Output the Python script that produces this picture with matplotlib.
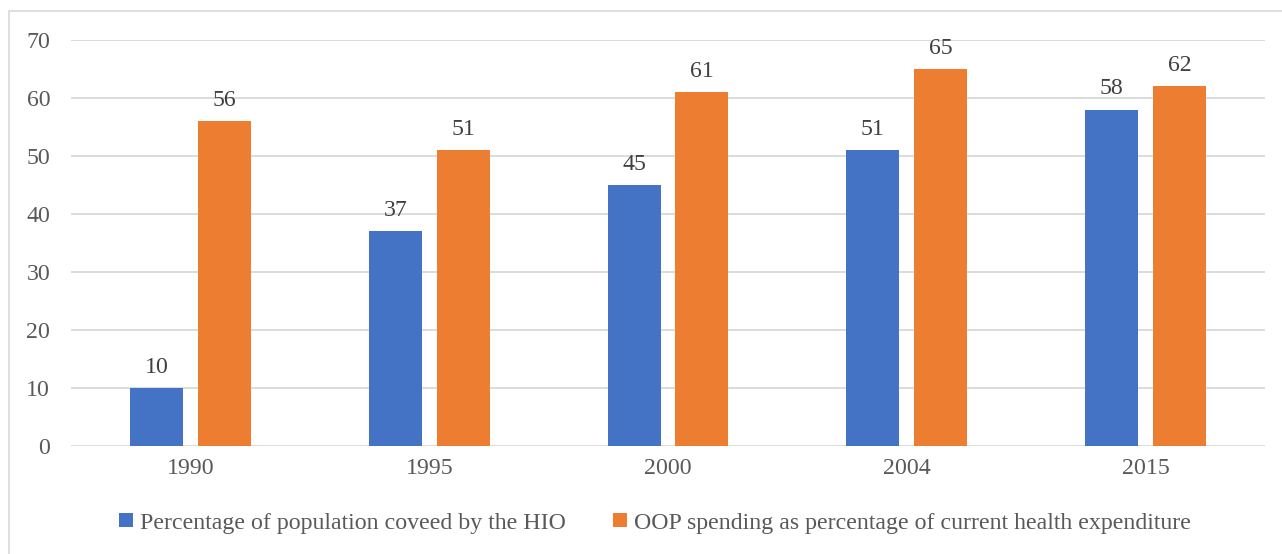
import numpy as np
import matplotlib.pyplot as plt
from matplotlib.patches import Rectangle

years = ['1990', '1995', '2000', '2004', '2015']
coverage = [10, 37, 45, 51, 58]
oop = [56, 51, 61, 65, 62]
labels = ['Percentage of population coveed by the HIO',
          'OOP spending as percentage of current health expenditure']

plt.rcParams['font.family'] = ['Liberation Serif', 'DejaVu Serif']
fs = 17.2

fig = plt.figure(figsize=(12.82, 5.54), dpi=100)
ax = fig.add_axes([71/1282, 1-446/554, 1194/1282, 406/554])

x = np.arange(len(years))
w = 0.222
off = 0.142
b1 = ax.bar(x - off, coverage, w, color='#4472C4', label=labels[0], zorder=3)
b2 = ax.bar(x + off, oop, w, color='#ED7D31', label=labels[1], zorder=3)

for bars in (b1, b2):
    for b in bars:
        ax.annotate(str(int(b.get_height())), (b.get_x() + b.get_width()/2, b.get_height()),
                    xytext=(0, 7.5), textcoords='offset points', ha='center', va='bottom',
                    fontsize=fs, color='#404040')

ax.set_xlim(-0.5, len(years) - 0.5)
ax.set_ylim(0, 70)
ax.set_yticks(range(0, 71, 10))
ax.set_xticks(x)
ax.set_xticklabels(years)
ax.tick_params(axis='both', length=0, labelsize=fs, colors='#595959')
ax.tick_params(axis='y', pad=15)
ax.tick_params(axis='x', pad=9)
ax.grid(axis='y', color='#D9D9D9', linewidth=1.3, zorder=0)
for s in ax.spines.values():
    s.set_visible(False)

fig.legend(loc='center', bbox_to_anchor=(0.5 + 14/1282, 1-523/554), ncol=2, frameon=False,
           fontsize=fs, labelcolor='#595959', handlelength=0.55, handleheight=0.55,
           handletextpad=0.3, columnspacing=2.0)

fig.patches.append(Rectangle((9/1282, -0.1), 1.2, 1-11/554+0.1, transform=fig.transFigure,
                             fill=False, edgecolor='#D9D9D9', linewidth=1.2))

plt.savefig('out.png', dpi=100)
